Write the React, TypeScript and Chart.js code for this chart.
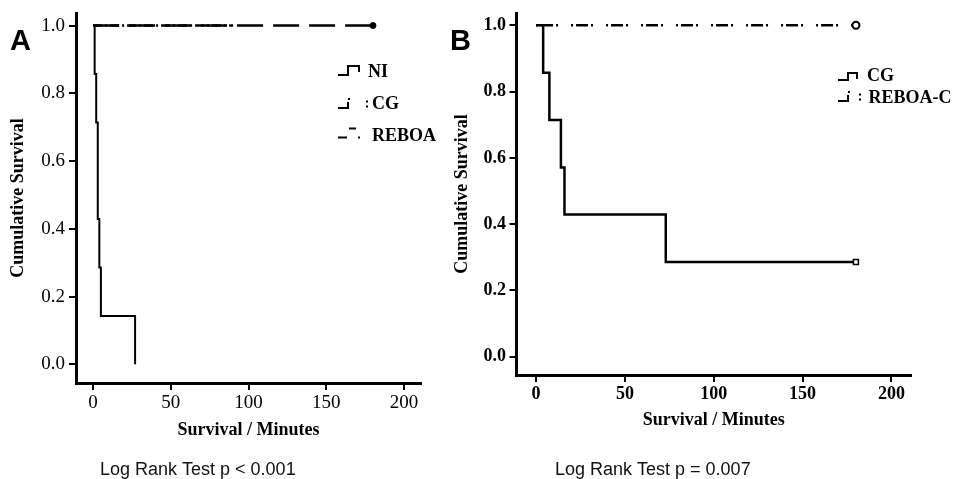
import React, { useEffect, useRef } from "react";
import { Chart, registerables } from "chart.js";

Chart.register(...registerables);

// ---------- data ----------
const xTicks = [0, 50, 100, 150, 200];
const yTicks = [0, 0.2, 0.4, 0.6, 0.8, 1.0];

// Panel A
const niTimes = [0, 1, 2, 3, 4, 5, 27];
const niSurv = [1, 0.857, 0.714, 0.429, 0.286, 0.143, 0];
const cgATimes = [0, 90];
const cgASurv = [1, 1];
const rebATimes = [0, 180];
const rebASurv = [1, 1];

// Panel B
const cgBTimes = [0, 4, 7.5, 14, 16, 73, 180];
const cgBSurv = [1, 0.857, 0.714, 0.571, 0.429, 0.286, 0.286];
const rebCTimes = [0, 180];
const rebCSurv = [1, 1];

const legendA = ["NI", "CG", "REBOA"];
const legendB = ["CG", "REBOA-C"];
const panelLabels = ["A", "B"];
const logRank = ["Log Rank Test p < 0.001", "Log Rank Test p = 0.007"];
const xTitle = "Survival / Minutes";
const yTitle = "Cumulative Survival";

// ---------- helpers ----------
const SERIF = '"Liberation Serif", "Times New Roman", serif';
const SANS = '"Liberation Sans", Arial, sans-serif';

const pts = (t: number[], s: number[]) => t.map((x, i) => ({ x, y: s[i] }));
const lastOnly = (t: number[], r: number) => t.map((_, i) => (i === t.length - 1 ? r : 0));

function makeScales(opts: {
  yWidth: number;
  xHeight: number;
  tickFont: any;
  yTitlePad: number;
  xTitlePad: number;
  yTickPad: number;
  xTickPad: number;
}) {
  const border = { display: true, width: 3, color: "#000" };
  const zeroPad = (s: any) => {
    s.paddingLeft = 0;
    s.paddingRight = 0;
    s.paddingTop = 0;
    s.paddingBottom = 0;
  };
  return {
    x: {
      type: "linear",
      min: -11,
      max: 211,
      afterBuildTicks: (s: any) => {
        s.ticks = xTicks.map((v) => ({ value: v }));
      },
      afterFit: (s: any) => {
        s.height = opts.xHeight;
        zeroPad(s);
      },
      grid: { display: false, drawTicks: false },
      border,
      ticks: {
        color: "#000",
        font: opts.tickFont,
        padding: opts.xTickPad,
        maxRotation: 0,
        autoSkip: false,
        callback: (v: any) => String(v),
      },
      title: {
        display: true,
        text: xTitle,
        color: "#000",
        font: { family: SERIF, size: 18, weight: "bold" },
        padding: { top: 0, bottom: opts.xTitlePad },
      },
    },
    y: {
      type: "linear",
      min: -0.055,
      max: 1.037,
      afterBuildTicks: (s: any) => {
        s.ticks = yTicks.map((v) => ({ value: v }));
      },
      afterFit: (s: any) => {
        s.width = opts.yWidth;
        zeroPad(s);
      },
      grid: { display: false, drawTicks: false },
      border,
      ticks: {
        color: "#000",
        font: opts.tickFont,
        padding: opts.yTickPad,
        autoSkip: false,
        callback: (v: any) => Number(v).toFixed(1),
      },
      title: {
        display: true,
        text: yTitle,
        color: "#000",
        font: { family: SERIF, size: 18, weight: "bold" },
        padding: { top: opts.yTitlePad, bottom: 0 },
      },
    },
  };
}

type Glyph = { lines: number[][][]; dots: number[][] };

function drawGlyph(ctx: CanvasRenderingContext2D, g: Glyph) {
  ctx.lineWidth = 2;
  ctx.strokeStyle = "#000";
  ctx.setLineDash([]);
  g.lines.forEach((pl) => {
    ctx.beginPath();
    pl.forEach((p, i) => (i === 0 ? ctx.moveTo(p[0], p[1]) : ctx.lineTo(p[0], p[1])));
    ctx.stroke();
  });
  ctx.fillStyle = "#000";
  g.dots.forEach((d) => ctx.fillRect(d[0] - 1, d[1] - 1, 2, 2));
}

const TICK_LEN = 7;

function makeDeco(
  label: string,
  labelX: number,
  rank: string,
  rankX: number,
  items: { text: string; x: number; y: number; glyph: Glyph }[]
) {
  return {
    id: "deco-" + label,
    afterDraw(chart: any) {
      const ctx: CanvasRenderingContext2D = chart.ctx;
      const xs = chart.scales.x;
      const ys = chart.scales.y;
      ctx.save();
      // tick marks, placed through the library's scales
      ctx.strokeStyle = "#000";
      ctx.lineWidth = 2;
      ctx.setLineDash([]);
      ctx.beginPath();
      xTicks.forEach((v) => {
        const px = Math.round(xs.getPixelForValue(v));
        ctx.moveTo(px, xs.top);
        ctx.lineTo(px, xs.top + TICK_LEN);
      });
      yTicks.forEach((v) => {
        const py = Math.round(ys.getPixelForValue(v));
        ctx.moveTo(ys.right, py);
        ctx.lineTo(ys.right - TICK_LEN, py);
      });
      ctx.stroke();

      ctx.fillStyle = "#000";
      ctx.textAlign = "left";
      ctx.textBaseline = "alphabetic";
      ctx.font = `bold 29px ${SANS}`;
      ctx.fillText(label, labelX, 50);
      ctx.fillStyle = "#111";
      ctx.font = `18px ${SANS}`;
      ctx.fillText(rank, rankX, 475);
      items.forEach((it) => {
        drawGlyph(ctx, it.glyph);
        ctx.fillStyle = "#000";
        ctx.font = `bold 18px ${SERIF}`;
        ctx.textBaseline = "middle";
        ctx.fillText(it.text, it.x, it.y);
      });
      ctx.restore();
    },
  };
}

const stepGlyph = (x: number, yb: number, yt: number, w: number): Glyph => ({
  lines: [[[x, yb], [x + 10, yb], [x + 10, yt], [x + w, yt], [x + w, yt + 6]]],
  dots: [],
});
const dashDotGlyph = (x: number, yb: number, colon: number): Glyph => ({
  lines: [[[x, yb], [x + 10, yb], [x + 10, yb - 6]]],
  dots: [
    [x + 11, yb - 9],
    [x + colon, yb - 6.5],
    [x + colon, yb - 1.5],
  ],
});
const longDashGlyph = (x: number, yb: number): Glyph => ({
  lines: [
    [[x, yb], [x + 9, yb]],
    [[x + 11, yb - 9], [x + 18, yb - 9]],
  ],
  dots: [[x + 21, yb]],
});

function configA(): any {
  return {
    type: "line",
    data: {
      datasets: [
        {
          label: legendA[1],
          data: pts(cgATimes, cgASurv),
          borderColor: "#000",
          borderWidth: 2.5,
          borderDash: [9, 3, 2, 3],
          pointRadius: 0,
        },
        {
          label: legendA[2],
          data: pts(rebATimes, rebASurv),
          borderColor: "#000",
          borderWidth: 2.5,
          borderDash: [26, 10],
          pointRadius: lastOnly(rebATimes, 3),
          pointStyle: "circle",
          pointBackgroundColor: "#000",
          pointBorderColor: "#000",
          pointBorderWidth: 1,
        },
        {
          label: legendA[0],
          data: pts(niTimes, niSurv),
          borderColor: "#000",
          borderWidth: 2,
          stepped: true,
          pointRadius: 0,
        },
      ],
    },
    options: {
      responsive: false,
      animation: false,
      events: [],
      layout: { padding: { left: 0, right: 18.8, top: 13, bottom: 0 } },
      plugins: { legend: { display: false }, tooltip: { enabled: false } },
      scales: makeScales({
        yWidth: 76,
        xHeight: 96,
        tickFont: { family: SERIF, size: 19 },
        yTitlePad: 8,
        xTitlePad: 37.5,
        yTickPad: 11,
        xTickPad: 9,
      }),
    },
    plugins: [
      makeDeco(panelLabels[0], 10, logRank[0], 100, [
        { text: legendA[0], x: 368, y: 72.5, glyph: stepGlyph(338, 75, 66, 21) },
        { text: legendA[1], x: 372, y: 104, glyph: dashDotGlyph(338, 108, 29) },
        { text: legendA[2], x: 372, y: 136, glyph: longDashGlyph(338, 137.5) },
      ]),
    ],
  };
}

function configB(): any {
  return {
    type: "line",
    data: {
      datasets: [
        {
          label: legendB[1],
          data: pts(rebCTimes, rebCSurv),
          borderColor: "#000",
          borderWidth: 2.5,
          borderDash: [2, 3, 12, 3, 2, 13],
          pointRadius: lastOnly(rebCTimes, 3.5),
          pointStyle: "circle",
          pointBackgroundColor: "#fff",
          pointBorderColor: "#000",
          pointBorderWidth: 2,
        },
        {
          label: legendB[0],
          data: pts(cgBTimes, cgBSurv),
          borderColor: "#000",
          borderWidth: 2.5,
          stepped: true,
          pointRadius: lastOnly(cgBTimes, 3.5),
          pointStyle: "rect",
          pointBackgroundColor: "#fff",
          pointBorderColor: "#000",
          pointBorderWidth: 1.5,
        },
      ],
    },
    options: {
      responsive: false,
      animation: false,
      events: [],
      layout: { padding: { left: 0, right: 43, top: 13, bottom: 0 } },
      plugins: { legend: { display: false }, tooltip: { enabled: false } },
      scales: makeScales({
        yWidth: 76.5,
        xHeight: 104,
        tickFont: { family: SERIF, size: 18, weight: "bold" },
        yTitlePad: 11.7,
        xTitlePad: 48,
        yTickPad: 10.5,
        xTickPad: 9,
      }),
    },
    plugins: [
      makeDeco(panelLabels[1], 10, logRank[1], 115, [
        { text: legendB[0], x: 427, y: 76.5, glyph: stepGlyph(398, 80, 73, 19) },
        { text: legendB[1], x: 428.5, y: 98.5, glyph: dashDotGlyph(398, 101, 22) },
      ]),
    ],
  };
}

export default function App() {
  const refA = useRef<HTMLCanvasElement>(null);
  const refB = useRef<HTMLCanvasElement>(null);
  useEffect(() => {
    const a = new Chart(refA.current!, configA());
    const b = new Chart(refB.current!, configB());
    return () => {
      a.destroy();
      b.destroy();
    };
  }, []);
  return (
    <div style={{ position: "absolute", left: 0, top: 0, width: 954, height: 479, background: "#fff" }}>
      <canvas ref={refA} width={440} height={479} style={{ position: "absolute", left: 0, top: 0 }} />
      <canvas ref={refB} width={514} height={479} style={{ position: "absolute", left: 440, top: 0 }} />
    </div>
  );
}
